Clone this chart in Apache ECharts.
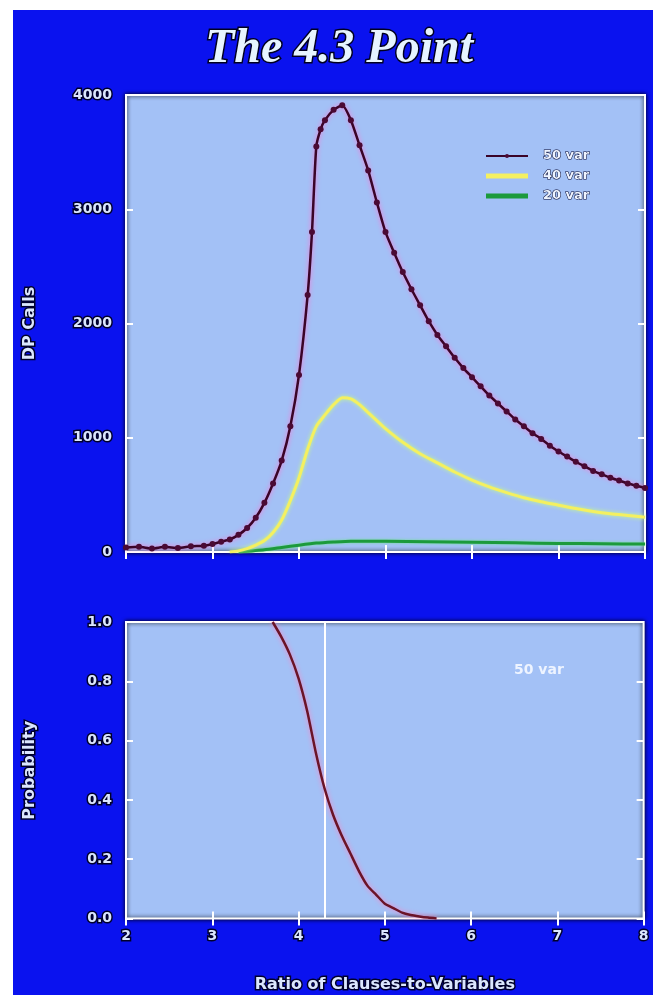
<!DOCTYPE html>
<html><head><meta charset="utf-8">
<script src="https://cdn.jsdelivr.net/npm/echarts@6/dist/echarts.min.js"></script>
<style>
html,body{margin:0;padding:0;background:#ffffff;width:653px;height:995px;overflow:hidden}
#bg{position:absolute;left:13px;top:10px;width:640px;height:985px;background:#0a12ef}
#c{position:absolute;left:0;top:0;width:653px;height:995px}
</style></head><body>
<div id="bg"></div><div id="c"></div>
<script>
// ---- data ----
const titleText = 'The 4.3 Point';
const xName = 'Ratio of Clauses-to-Variables';
const yNameTop = 'DP Calls';
const yNameBottom = 'Probability';
const seriesNames = ['50 var', '40 var', '20 var'];
const bottomLabel = '50 var';

const x50 = [2.0,2.15,2.3,2.45,2.6,2.75,2.9,3.0,3.1,3.2,3.3,3.4,3.5,3.6,3.7,3.8,3.9,4.0,4.1,4.15,4.2,4.25,4.3,4.4,4.5,4.6,4.7,4.8,4.9,5.0,5.1,5.2,5.3,5.4,5.5,5.6,5.7,5.8,5.9,6.0,6.1,6.2,6.3,6.4,6.5,6.6,6.7,6.8,6.9,7.0,7.1,7.2,7.3,7.4,7.5,7.6,7.7,7.8,7.9,8.0];
const y50 = [40,45,30,45,35,50,55,70,90,110,150,210,300,430,600,800,1100,1550,2250,2800,3550,3700,3780,3870,3910,3780,3560,3340,3060,2800,2620,2450,2300,2160,2020,1900,1800,1700,1610,1530,1450,1370,1300,1230,1160,1100,1040,990,930,880,835,790,750,710,680,650,625,600,580,560];

const x40 = [3.2,3.3,3.4,3.5,3.6,3.7,3.8,3.9,4.0,4.1,4.2,4.3,4.4,4.5,4.6,4.7,4.8,4.9,5.0,5.2,5.4,5.6,5.8,6.0,6.2,6.4,6.6,6.8,7.0,7.2,7.4,7.6,7.8,8.0];
const y40 = [0,10,30,60,100,170,280,450,650,900,1100,1200,1290,1350,1340,1290,1220,1150,1080,960,860,780,700,630,570,520,475,440,410,380,355,335,320,305];

const x20 = [3.3,3.6,3.8,4.0,4.2,4.4,4.6,5.0,5.5,6.0,6.5,7.0,7.5,8.0];
const y20 = [0,20,40,60,78,88,95,95,90,85,80,75,72,70];

const xProb = [3.7,3.8,3.9,4.0,4.1,4.2,4.3,4.4,4.5,4.6,4.7,4.8,4.9,5.0,5.1,5.2,5.3,5.4,5.5,5.6];
const yProb = [1.0,0.95,0.89,0.81,0.70,0.56,0.44,0.35,0.28,0.22,0.16,0.11,0.08,0.05,0.035,0.02,0.012,0.007,0.003,0.0];

const markX = 4.3;

// ---- styles ----
const zip = (xs, ys) => xs.map((x, i) => [x, ys[i]]);
const lblStyle = {color:'#dbe6ff', fontFamily:'DejaVu Sans', fontWeight:'bold', fontSize:14,
  textBorderColor:'#00002a', textBorderWidth:3};
const plotBg = '#a3c1f6';
const L = 126, W = 519;
const gridBase = {left:L, width:W, show:true, backgroundColor:plotBg, borderColor:'#ffffff', borderWidth:2,
  shadowColor:'rgba(0,0,0,0.9)', shadowBlur:4};

function xAxisDef(gi, showLabels, pos){
  return {type:'value', gridIndex:gi, min:2, max:8, interval:1, position:pos,
    name: (showLabels ? xName : ''), nameLocation:'middle', nameGap:58,
    nameTextStyle:Object.assign({}, lblStyle, {fontSize:16}),
    axisLine:{show:false}, splitLine:{show:false},
    axisTick:{show:true, inside:true, length:7, lineStyle:{color:'#ffffff', width:2}},
    axisLabel:Object.assign({show:showLabels, margin:11}, lblStyle)};
}
function yAxisDef(gi, min, max, interval, name, showLabels, pos, fmt){
  return {type:'value', gridIndex:gi, min:min, max:max, interval:interval, position:pos,
    name: name, nameLocation:'middle', nameGap:88, nameRotate:90,
    nameTextStyle:Object.assign({}, lblStyle, {fontSize:16}),
    axisLine:{show:false}, splitLine:{show:false},
    axisTick:{show:true, inside:true, length:7, lineStyle:{color:'#ffffff', width:2}},
    axisLabel:Object.assign({show:showLabels, margin:14, formatter:fmt}, lblStyle)};
}

const chart = echarts.init(document.getElementById('c'), null, {renderer:'canvas'});
chart.setOption({
  backgroundColor:'transparent',
  animation:false,
  title:{text:titleText, left:200, top:21,
    textStyle:{fontFamily:'Liberation Serif', fontStyle:'italic', fontWeight:'bold', fontSize:48,
      color:'#e6f4ff', textBorderColor:'#000020', textBorderWidth:3}},
  legend:{data:[{name:seriesNames[0]}, {name:seriesNames[1], icon:'rect'}, {name:seriesNames[2], icon:'rect'}],
    orient:'vertical', left:480, top:144, itemWidth:42, itemHeight:5, itemGap:6,
    textStyle:Object.assign({}, lblStyle, {fontSize:13, color:'#eef4ff', textBorderWidth:1, padding:[0,0,0,10]})},
  grid:[Object.assign({top:95, height:457}, gridBase), Object.assign({top:622, height:301}, gridBase)],
  xAxis:[xAxisDef(0,false,'bottom'), xAxisDef(1,true,'bottom'), xAxisDef(0,false,'top'), xAxisDef(1,false,'top')],
  yAxis:[yAxisDef(0,0,4000,1000,yNameTop,true,'left', v => String(v)),
         yAxisDef(1,0,1,0.2,yNameBottom,true,'left', v => v.toFixed(1)),
         yAxisDef(0,0,4000,1000,'',false,'right'),
         yAxisDef(1,0,1,0.2,'',false,'right')],
  graphic:[{type:'text', left:514, top:663, style:{text:bottomLabel, fill:'#eef4ff',
    font:'bold 14px "DejaVu Sans"'}}],
  series:[
    {name:seriesNames[0], type:'line', xAxisIndex:0, yAxisIndex:0, data:zip(x50,y50), smooth:0.2,
      symbol:'circle', symbolSize:6, itemStyle:{color:'#4a0a34'},
      lineStyle:{color:'#3a0428', width:2.5, shadowColor:'#ff70d0', shadowBlur:5}, z:5},
    {name:seriesNames[1], type:'line', xAxisIndex:0, yAxisIndex:0, data:zip(x40,y40), smooth:0.2,
      symbol:'none', itemStyle:{color:'#f4f060'},
      lineStyle:{color:'#f4f060', width:3, shadowColor:'#c8ff80', shadowBlur:4}, z:4},
    {name:seriesNames[2], type:'line', xAxisIndex:0, yAxisIndex:0, data:zip(x20,y20), smooth:0.2,
      symbol:'none', itemStyle:{color:'#1c9a3c'},
      lineStyle:{color:'#1c9a3c', width:3, shadowColor:'#70e090', shadowBlur:3}, z:3},
    {name:'prob', type:'line', xAxisIndex:1, yAxisIndex:1, data:zip(xProb,yProb), smooth:0.2,
      symbol:'none', itemStyle:{color:'#6a1428'},
      lineStyle:{color:'#6a1428', width:2.5, shadowColor:'#ff80c0', shadowBlur:5}, z:5,
      markLine:{silent:true, symbol:'none', label:{show:false},
        lineStyle:{color:'#ffffff', width:2, type:'solid'}, data:[{xAxis:markX}]}}
  ]
});
</script>
</body></html>
